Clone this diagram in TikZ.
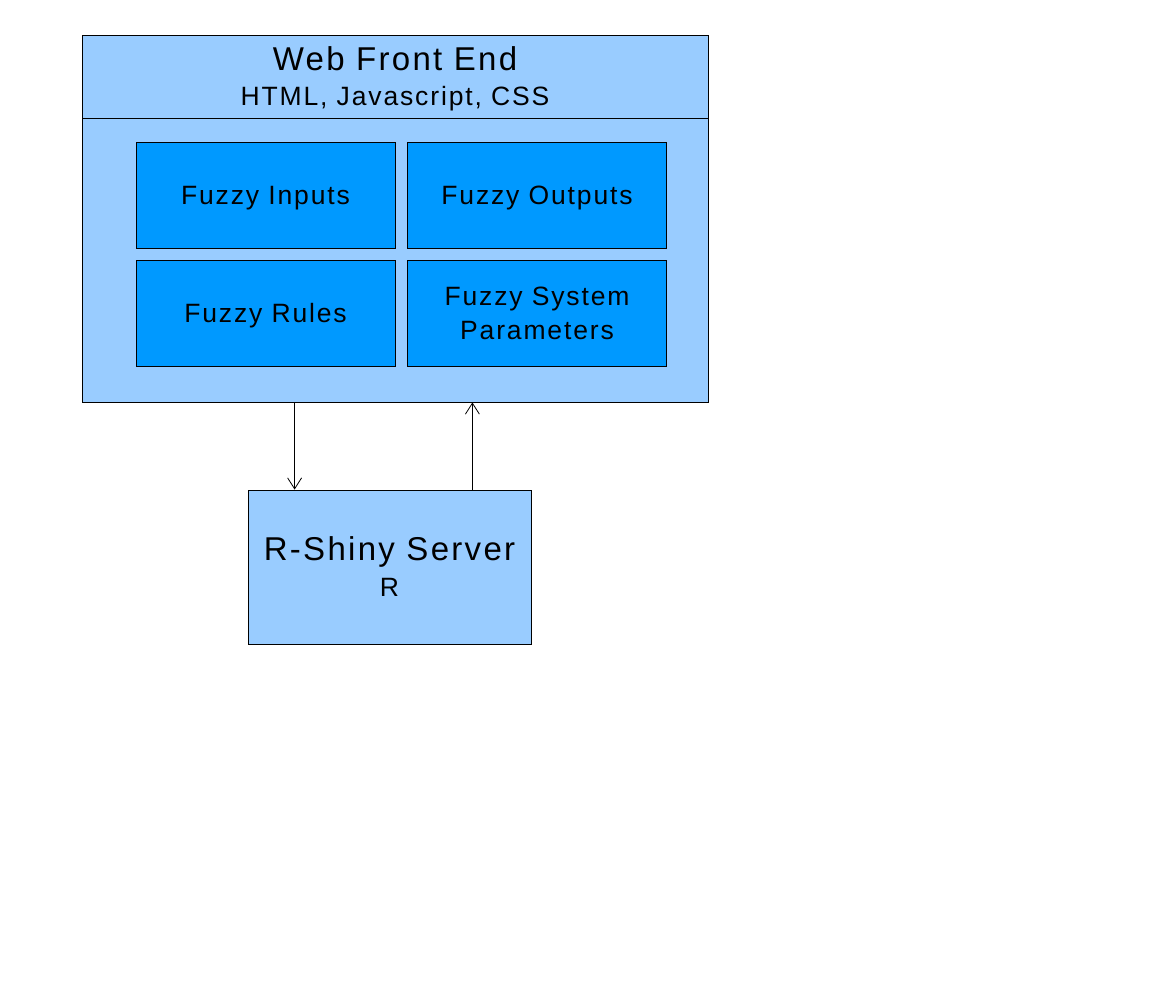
\documentclass[tikz,border=0pt]{standalone}
\usepackage{fontspec}
\setmainfont[LetterSpace=7]{Liberation Sans}
\usetikzlibrary{arrows.meta,calc}

\definecolor{paleblue}{HTML}{99CCFF}
\definecolor{deepblue}{HTML}{0099FF}

\newcommand{\titlesize}{\fontsize{33}{36}\selectfont}
\newcommand{\textsize}{\fontsize{26.5}{34}\selectfont}

\begin{document}
\begin{tikzpicture}[x=1pt,y=-1pt,
    flow/.style={-{Straight Barb[length=11pt,width=14pt]}, line width=0.8pt}]

        \useasboundingbox (0,0) rectangle (1170,981);

        \begin{scope}[every node/.style={rectangle, draw, line width=0.8pt, fill=paleblue, align=center, inner sep=0pt,
                      text depth=0pt, font=\textsize}]
          \node (webhead) at (395,76.5) [minimum width=626pt, minimum height=83pt]
                {\titlesize Web Front End\\[1pt]\textsize HTML, Javascript, CSS};
          \node (webbody) at (395,260)  [minimum width=626pt, minimum height=284pt] {};
          \node (server)  at (389.5,567) [minimum width=283pt, minimum height=154pt]
                {\titlesize R-Shiny Server\\[2pt]\textsize R};
        \end{scope}

        \begin{scope}[every node/.style={rectangle, draw, line width=0.8pt, fill=deepblue, align=center, inner sep=0pt,
                      minimum width=259pt, minimum height=106pt, text depth=0pt, font=\textsize}]
          \node (inputs)  at (265.5,195) {Fuzzy Inputs};
          \node (outputs) at (537,195)   {Fuzzy Outputs};
          \node (rules)   at (265.5,313) {Fuzzy Rules};
          \node (params)  at (537,313)   {Fuzzy System\\Parameters};
        \end{scope}

        % arrow ends on the server box
        \coordinate (request) at ($(server.north west)+(47,0)$);
        \coordinate (reply)   at ($(server.north east)+(-59,0)$);

        \draw[flow] (request |- webbody.south) -- (request);
        \draw[flow] (reply) -- (reply |- webbody.south);

      \end{tikzpicture}
\end{document}
